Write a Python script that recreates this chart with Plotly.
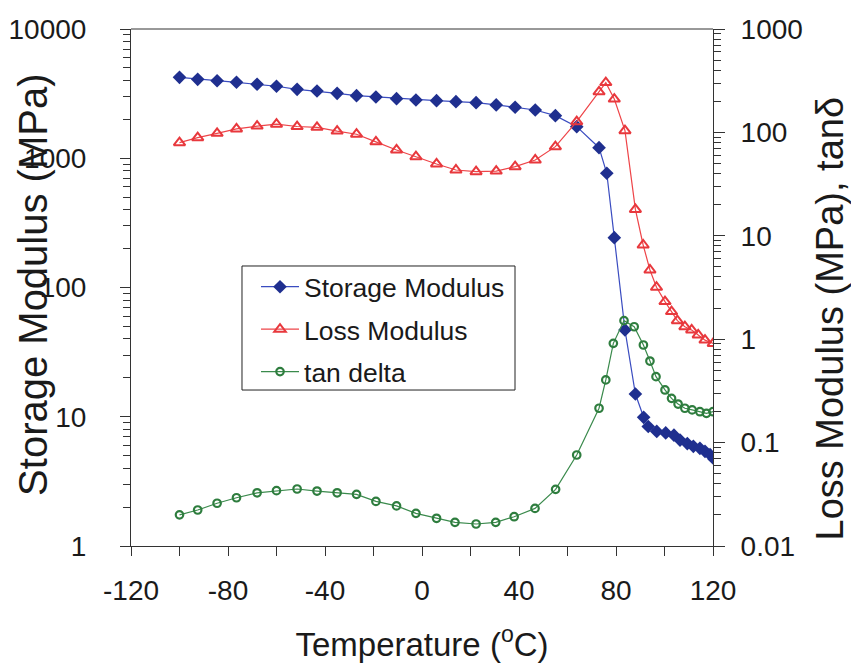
import plotly.graph_objects as go

# ---- data ----
temp_storage = [-100, -92.5, -84.5, -76.5, -68, -60, -51.5, -43.3, -35, -27, -19, -10.5,
                -2.5, 6, 14, 22.3, 30.6, 38.4, 46.7, 55, 63.8, 73, 76.2, 79.3, 83.7, 88,
                91.4, 93.3, 96.8, 100.5, 103.9, 106.4, 109.4, 111.9, 114.6, 116.7, 118.8, 120.5]
storage_modulus = [4230, 4080, 3980, 3870, 3735, 3605, 3415, 3315, 3180, 3050, 2980, 2890,
                   2825, 2790, 2740, 2690, 2585, 2480, 2362, 2135, 1755, 1207, 765, 243, 47, 15,
                   9.9, 8.4, 7.7, 7.5, 7.2, 6.6, 6.2, 5.9, 5.7, 5.4, 5.1, 4.7]

temp_loss = [-100, -92.5, -84.5, -76.5, -68, -60, -51.5, -43.3, -35, -27, -19, -10.5,
             -2.5, 6, 14, 22.3, 30.6, 38.4, 46.7, 55, 63.8, 73, 75.8, 79.3, 83.7, 88,
             91.2, 94, 96.7, 100.2, 102.9, 105.3, 108.4, 111.2, 113.9, 116.7, 120.1]
loss_modulus = [79.5, 89, 98, 108, 115, 120, 114, 112, 103, 96, 81, 67.6,
                58.2, 49.5, 43.3, 41.7, 42.3, 46.6, 54.1, 72.8, 127, 247, 303, 210, 104, 18.0,
                8.15, 4.67, 3.18, 2.31, 1.85, 1.51, 1.32, 1.23, 1.10, 0.98, 0.91]

temp_tan = [-100, -92.5, -84.5, -76.5, -68, -60, -51.5, -43.3, -35, -27, -19, -10.5,
            -2.5, 6, 13.6, 22.3, 30.4, 38, 46.6, 55.1, 63.8, 73, 75.8, 78.9, 83.3, 87.5,
            91.3, 94, 96.5, 100.2, 102.9, 105.6, 108.4, 111.4, 114.6, 117.3, 120]
tan_delta = [0.0200, 0.0223, 0.0259, 0.0293, 0.0327, 0.0343, 0.0356, 0.0340, 0.0327, 0.0316,
             0.0270, 0.0244, 0.0207, 0.01853, 0.01694, 0.01633, 0.01694, 0.0192, 0.0231,
             0.0353, 0.0759, 0.215, 0.404, 0.912, 1.51, 1.32, 0.879, 0.615, 0.434, 0.323,
             0.268, 0.236, 0.215, 0.207, 0.199, 0.192, 0.199]

x_ticks = [-120, -80, -40, 0, 40, 80, 120]
x_tick_labels = ["-120", "-80", "-40", "0", "40", "80", "120"]
y_left_ticks = [1, 10, 100, 1000, 10000]
y_left_labels = ["1", "10", "100", "1000", "10000"]
y_right_ticks = [0.01, 0.1, 1, 10, 100, 1000]
y_right_labels = ["0.01", "0.1", "1", "10", "100", "1000"]

x_title = "Temperature (<sup>o</sup>C)"
y_left_title = "Storage Modulus (MPa)"
y_right_title = "Loss Modulus (MPa), tanδ"

FONT = "Arial, 'Liberation Sans', sans-serif"
AX = "#333"

fig = go.Figure()
fig.add_trace(go.Scatter(
    x=temp_storage, y=storage_modulus, name="Storage Modulus", mode="lines+markers",
    legendgroup="a",
    line=dict(color="#3a4cc0", width=1.2),
    marker=dict(symbol="diamond", size=10.5, color="#1f2f8f", line=dict(width=0)),
))
fig.add_trace(go.Scatter(
    x=temp_loss, y=loss_modulus, name="Loss Modulus", mode="lines+markers",
    legendgroup="b", yaxis="y2",
    line=dict(color="#ee4448", width=1.2),
    marker=dict(symbol="triangle-up-open", size=10, color="#e8383d", line=dict(width=2)),
))
fig.add_trace(go.Scatter(
    x=temp_tan, y=tan_delta, name="tan delta", mode="lines+markers",
    legendgroup="c", yaxis="y2",
    line=dict(color="#3a8a4c", width=1.2),
    marker=dict(symbol="circle-open", size=7.5, color="#2e7d3e", line=dict(width=2.2)),
))

fig.update_layout(
    width=851, height=666,
    margin=dict(l=131, r=138, t=29, b=120, autoexpand=False),
    paper_bgcolor="white", plot_bgcolor="white",
    font=dict(family=FONT, color="#1a1a1a", size=28),
    showlegend=True,
    legend=dict(
        x=0.2148, y=0.5474, xanchor="left", yanchor="top",
        bgcolor="rgba(0,0,0,0)", borderwidth=0,
        font=dict(size=26.5, family=FONT), tracegroupgap=5, itemwidth=38,
    ),
    xaxis=dict(
        range=[-120, 120], tickmode="array", tickvals=x_ticks, ticktext=x_tick_labels,
        ticks="outside", ticklen=9, tickwidth=1, tickcolor=AX,
        showline=True, linecolor=AX, linewidth=1, mirror=False,
        showgrid=False, zeroline=False, automargin=False,
        minor=dict(dtick=20, tick0=-120, ticks="outside", ticklen=9, tickcolor=AX, showgrid=False),
        ticklabelstandoff=10,
        tickfont=dict(size=28),
        title=dict(text=x_title, font=dict(size=33), standoff=28),
    ),
    yaxis=dict(
        type="log", range=[0, 4], tickmode="array", tickvals=y_left_ticks, ticktext=y_left_labels,
        ticks="outside", ticklen=10, tickwidth=1, tickcolor=AX,
        showline=True, linecolor=AX, linewidth=1,
        showgrid=False, zeroline=False, automargin=False,
        minor=dict(dtick="D1", ticks="outside", ticklen=7, tickcolor=AX, showgrid=False),
        ticklabelstandoff=28,
        tickfont=dict(size=28),
    ),
    yaxis2=dict(
        type="log", range=[-2, 3], tickmode="array", tickvals=y_right_ticks, ticktext=y_right_labels,
        overlaying="y", side="right",
        ticks="outside", ticklen=11, tickwidth=1, tickcolor=AX,
        showline=True, linecolor=AX, linewidth=1,
        showgrid=False, zeroline=False, automargin=False,
        minor=dict(dtick="D1", ticks="outside", ticklen=7, tickcolor=AX, showgrid=False),
        ticklabelstandoff=10,
        tickfont=dict(size=28),
    ),
    shapes=[
        dict(type="line", xref="paper", yref="paper", x0=0, x1=1, y0=1, y1=1,
             line=dict(color=AX, width=1)),
        dict(type="rect", xref="paper", yref="paper", x0=0.1907, x1=0.6598, y0=0.3017, y1=0.5416,
             fillcolor="white", line=dict(color="#222", width=1), layer="above"),
    ],
    annotations=[
        dict(text=y_left_title, xref="paper", yref="paper", x=-0.1684, y=0.505,
             xanchor="center", yanchor="middle", textangle=-90, showarrow=False,
             font=dict(size=40, family=FONT, color="#1a1a1a")),
        dict(text=y_right_title, xref="paper", yref="paper", x=1.2010, y=0.44,
             xanchor="center", yanchor="middle", textangle=-90, showarrow=False,
             font=dict(size=38, family=FONT, color="#1a1a1a")),
    ],
)

fig.write_html("out.html")
